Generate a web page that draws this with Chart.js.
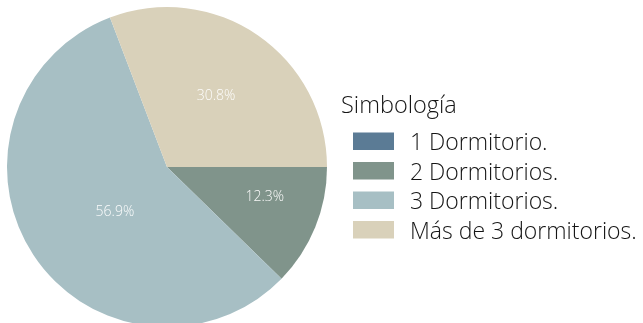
<!DOCTYPE html>
<html>
<head>
<meta charset="utf-8">
<script src="https://cdn.jsdelivr.net/npm/chart.js@4/dist/chart.umd.min.js"></script>
<style>
  html, body { margin: 0; padding: 0; background: #fff; overflow: hidden; }
  #wrap { width: 643px; height: 327px; }
</style>
</head>
<body>
<div id="wrap"><canvas id="pie" width="643" height="327"></canvas></div>
<script>
const legendTitle = 'Simbología';
const categories = ['1 Dormitorio.', '2 Dormitorios.', '3 Dormitorios.', 'Más de 3 dormitorios.'];
const shares = [0, 12.3, 56.9, 30.8];
const sliceColors = ['#5b7b95', '#80948b', '#a7bfc4', '#d9d1ba'];

// where each percentage sits inside its slice (fraction of radius, angle nudge in degrees)
const labelRadius = [0.6, 0.64, 0.43, 0.54];
const labelNudge = [0, -5, -7.5, 0];

// percentages drawn inside the slices
const sliceLabels = {
  id: 'sliceLabels',
  afterDatasetsDraw(chart) {
    const ctx = chart.ctx;
    const meta = chart.getDatasetMeta(0);
    ctx.save();
    ctx.font = '300 14px "Open Sans", Lato, sans-serif';
    ctx.fillStyle = 'rgba(255,255,255,0.95)';
    ctx.textAlign = 'center';
    ctx.textBaseline = 'middle';
    meta.data.forEach((arc, i) => {
      const v = chart.data.datasets[0].data[i];
      if (!v) return;
      const p = arc.getProps(['x', 'y', 'startAngle', 'endAngle', 'outerRadius'], true);
      const mid = (p.startAngle + p.endAngle) / 2 + labelNudge[i] * Math.PI / 180;
      const r = p.outerRadius * labelRadius[i];
      ctx.fillText(v.toFixed(1) + '%', p.x + Math.cos(mid) * r, p.y + Math.sin(mid) * r);
    });
    ctx.restore();
  }
};

// legend on the right with title and colour boxes
const sideLegend = {
  id: 'sideLegend',
  afterDraw(chart) {
    const ctx = chart.ctx;
    const ds = chart.data.datasets[0];
    ctx.save();
    ctx.fillStyle = '#151515';
    ctx.textBaseline = 'alphabetic';
    ctx.textAlign = 'left';
    ctx.font = '300 23.5px "Open Sans", Lato, sans-serif';
    ctx.fillText(legendTitle, 341, 113);
    ctx.font = '300 23px "Open Sans", Lato, sans-serif';
    chart.data.labels.forEach((lab, i) => {
      const base = 150 + i * 29.5;
      ctx.fillStyle = ds.backgroundColor[i];
      ctx.fillRect(353, base - 17.5, 41, 17.5);
      ctx.fillStyle = '#151515';
      ctx.fillText(lab, 410, base);
    });
    ctx.restore();
  }
};

new Chart(document.getElementById('pie'), {
  type: 'pie',
  data: {
    labels: categories,
    datasets: [{
      data: shares,
      backgroundColor: sliceColors,
      borderWidth: 0
    }]
  },
  options: {
    responsive: false,
    animation: false,
    rotation: 90,
    layout: { padding: { top: 7, left: 7, right: 316, bottom: 0 } },
    plugins: {
      legend: { display: false },
      tooltip: { enabled: false }
    }
  },
  plugins: [sliceLabels, sideLegend]
});
</script>
</body>
</html>
